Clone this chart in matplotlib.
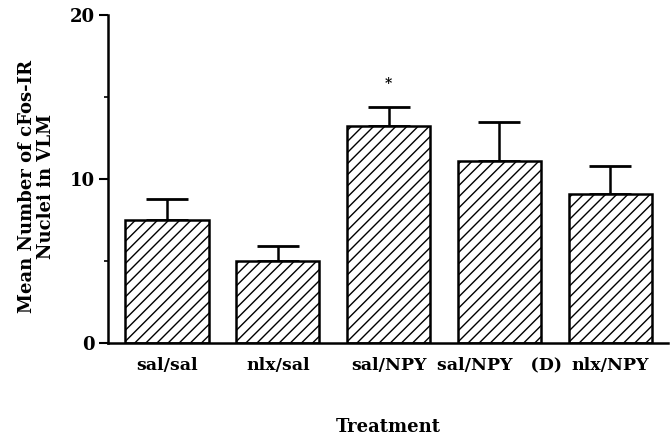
import matplotlib
matplotlib.use("Agg")
import matplotlib.pyplot as plt
from matplotlib.ticker import MultipleLocator

categories = ["sal/sal", "nlx/sal", "sal/NPY", "sal/NPY   (D)", "nlx/NPY"]
means = [7.5, 5.0, 13.2, 11.1, 9.1]
errors = [1.3, 0.9, 1.2, 2.4, 1.7]
y_ticks = [0, 10, 20]

plt.rcParams['font.family'] = ['DejaVu Serif']
plt.rcParams['hatch.linewidth'] = 1.0

fig = plt.figure(figsize=(6.72, 4.38), dpi=100)
ax = fig.add_axes([0.161, 0.217, 0.833, 0.749])

x = list(range(len(categories)))
ax.bar(x, means, width=0.75, color='white', edgecolor='black', linewidth=1.8,
       hatch='///', zorder=2)
ax.errorbar(x, means, yerr=[[0]*len(errors), errors], fmt='none', ecolor='black',
            elinewidth=1.8, capsize=15, capthick=2.0, zorder=1)

ax.text(2, means[2] + errors[2] + 1.4, '*', ha='center', va='center',
        fontsize=10, fontweight='bold')

ax.set_xlim(-0.53, 4.52)
ax.set_ylim(0, 20)
ax.set_yticks(y_ticks)
ax.yaxis.set_minor_locator(MultipleLocator(5))
ax.set_yticklabels([str(t) for t in y_ticks], fontsize=13, fontweight='bold')
ax.set_xticks(x)
ax.set_xticklabels(categories, fontsize=12.5, fontweight='bold')
ax.tick_params(axis='x', length=0, pad=10)
ax.tick_params(axis='y', which='major', length=6.5, width=1.5, direction='out', pad=3)
ax.tick_params(axis='y', which='minor', length=3, width=1.2, direction='out')

for s in ['top', 'right']:
    ax.spines[s].set_visible(False)
ax.spines['left'].set_linewidth(1.8)
ax.spines['bottom'].set_linewidth(1.8)

ax.set_ylabel("Mean Number of cFos-IR\nNuclei in VLM", fontsize=13,
              fontweight='bold', linespacing=1.05)
ax.yaxis.set_label_coords(-0.095, 0.476)
ax.set_xlabel("Treatment", fontsize=13, fontweight='bold', labelpad=32)

fig.savefig("out.png", dpi=100)
